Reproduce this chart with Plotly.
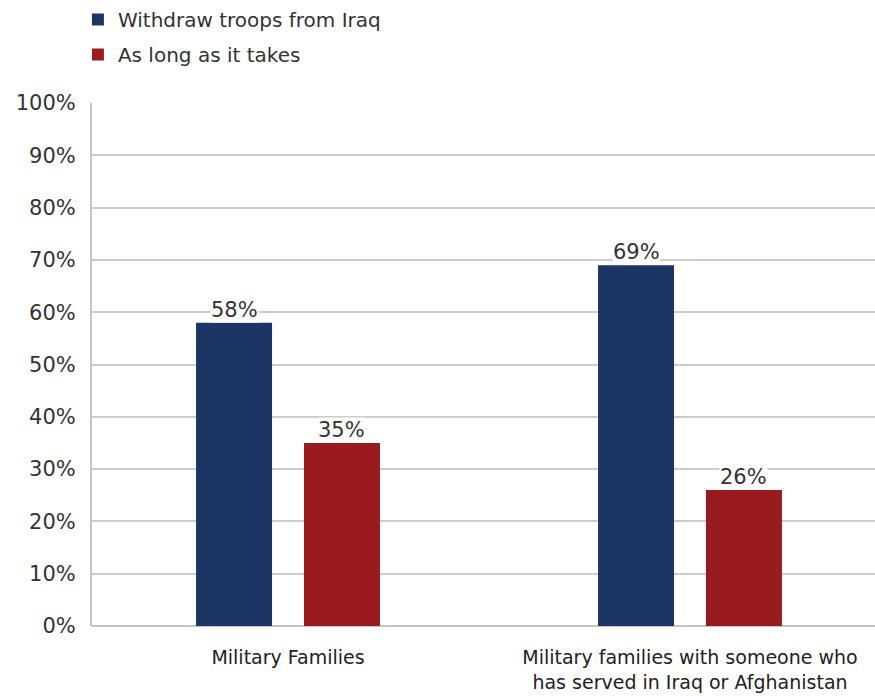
import plotly.graph_objects as go

categories = ["Military Families",
              "Military families with someone who<br>has served in Iraq or Afghanistan"]
withdraw = [58, 69]
as_long = [35, 26]
series_names = ["Withdraw troops from Iraq", "As long as it takes"]
colors = ["#1d3565", "#9a1b1f"]
y_ticks = list(range(0, 101, 10))
y_ticktext = [f"{v}%" for v in y_ticks]

FONT = "DejaVu Sans"
bargap = 0.463
bargroupgap = 0.296

x_idx = list(range(len(categories)))

fig = go.Figure()
for i, (name, vals, col) in enumerate(zip(series_names, [withdraw, as_long], colors)):
    fig.add_trace(go.Bar(
        x=x_idx, y=vals, name=name, marker=dict(color=col, line=dict(width=0)),
        legendgroup=f"g{i}",
    ))

slot = (1 - bargap) / 2
annotations = []
for i, vals in enumerate([withdraw, as_long]):
    off = (i - 0.5) * slot
    for xi, v in zip(x_idx, vals):
        annotations.append(dict(
            x=xi + off, y=v, text=f"{v}%", showarrow=False, yanchor="bottom",
            xanchor="center", yshift=0, bgcolor="white", borderpad=0,
            font=dict(family=FONT, size=21, color="#333333"),
        ))

fig.update_layout(
    width=875, height=696,
    margin=dict(l=92, r=0, t=103, b=70, autoexpand=False),
    paper_bgcolor="white", plot_bgcolor="white",
    barmode="group", bargap=bargap, bargroupgap=bargroupgap,
    font=dict(family=FONT, color="#333333"),
    showlegend=True,
    legend=dict(x=-0.018, y=1.004, xref="paper", yref="container",
                xanchor="left", yanchor="top",
                font=dict(family=FONT, size=20, color="#333333"),
                tracegroupgap=6, bgcolor="rgba(0,0,0,0)"),
    annotations=annotations,
    xaxis=dict(
        tickmode="array", tickvals=x_idx, ticktext=categories,
        range=[-0.4876, 1.4602], showgrid=False, zeroline=False,
        showline=False, ticks="", automargin=False,
        tickfont=dict(family=FONT, size=19, color="#222222"),
        ticklabelstandoff=18,
    ),
    yaxis=dict(
        range=[0, 100], tickmode="array", tickvals=y_ticks, ticktext=y_ticktext,
        showgrid=True, gridcolor="#cccccc", gridwidth=2,
        showline=True, linecolor="#c4c4c4", linewidth=2,
        zeroline=True, zerolinecolor="#c4c4c4", zerolinewidth=2,
        ticks="", automargin=False,
        tickfont=dict(family=FONT, size=21, color="#333333"),
        ticklabelstandoff=10,
    ),
)
fig.write_html("out.html")
